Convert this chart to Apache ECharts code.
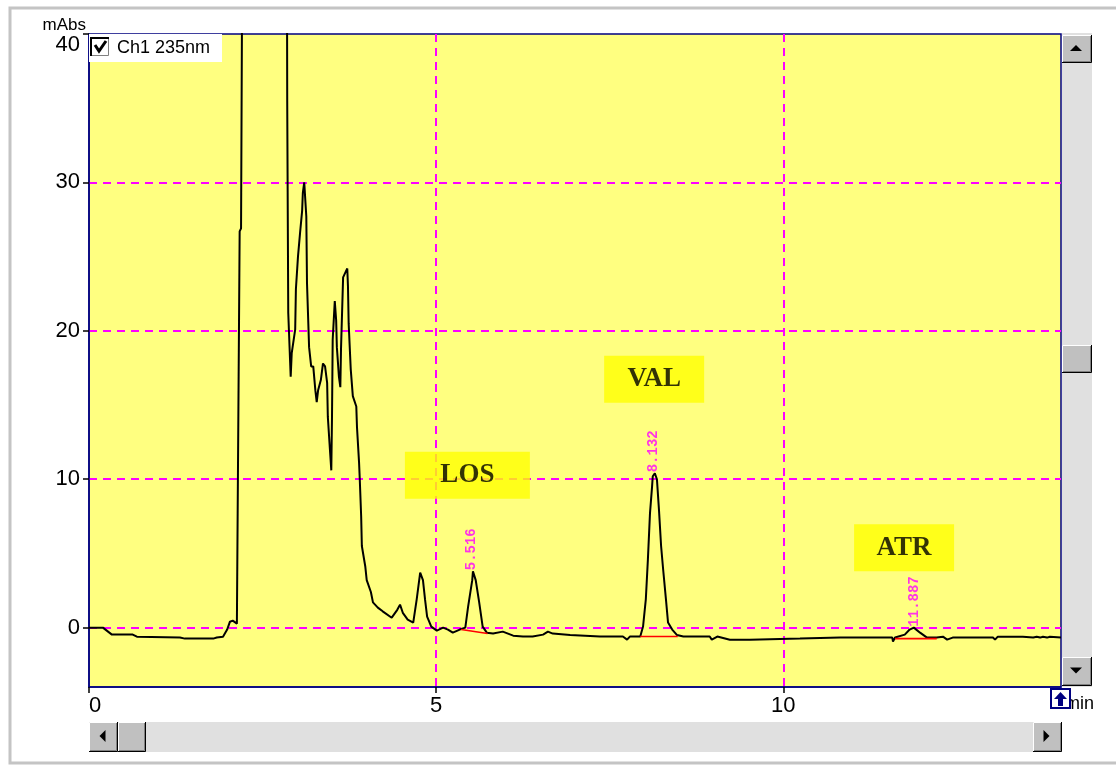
<!DOCTYPE html>
<html><head><meta charset="utf-8">
<script src="https://cdn.jsdelivr.net/npm/echarts@6/dist/echarts.min.js"></script>
<style>html,body{margin:0;padding:0;background:#fff;}#c{width:1116px;height:767px;}</style>
</head><body><div id="c"></div>
<script>
// ---- data ----
const times = [0.00,0.20,0.33,0.63,0.69,1.31,1.38,1.79,1.84,1.93,1.99,2.03,2.07,2.13,2.17,2.19,2.21,2.50,2.85,2.855,2.87,2.905,2.92,2.97,2.98,3.01,3.04,3.07,3.08,3.10,3.13,3.14,3.17,3.20,3.23,3.26,3.28,3.30,3.34,3.37,3.40,3.43,3.44,3.47,3.49,3.50,3.51,3.54,3.56,3.57,3.60,3.62,3.63,3.66,3.69,3.72,3.73,3.74,3.77,3.80,3.85,3.86,3.89,3.90,3.92,3.93,3.98,4.00,4.06,4.09,4.16,4.23,4.36,4.44,4.48,4.52,4.59,4.67,4.72,4.77,4.81,4.84,4.87,4.93,5.01,5.10,5.17,5.24,5.34,5.42,5.46,5.52,5.53,5.57,5.62,5.67,5.73,5.82,5.96,6.11,6.25,6.39,6.54,6.61,6.68,6.93,7.36,7.69,7.75,7.79,7.94,7.98,8.02,8.05,8.08,8.11,8.12,8.15,8.18,8.21,8.24,8.27,8.31,8.34,8.40,8.47,8.56,8.94,8.97,9.05,9.23,9.52,10.24,10.82,11.21,11.22,11.57,11.58,11.61,11.75,11.82,11.88,11.97,12.07,12.21,12.30,12.36,12.44,13.02,13.05,13.09,13.45,13.60,13.65,13.70,13.74,13.80,13.84,14.00];
const absorbance = [0,0,-0.47,-0.47,-0.61,-0.67,-0.74,-0.74,-0.67,-0.61,-0.13,0.40,0.47,0.27,26.7,26.9,48,180,48,35.5,21.2,16.9,18.5,20.1,22.8,25.0,26.6,28.1,29.3,30.0,27.7,23.2,18.9,17.6,17.6,16.0,15.2,16.0,16.7,17.8,17.6,16.5,14.2,12.0,10.6,14.2,19.4,22.0,20.7,18.9,16.9,16.2,18.8,23.6,23.9,24.2,23.0,20.5,17.4,15.6,14.9,13.5,11.1,10.0,7.5,5.5,4.1,3.2,2.4,1.7,1.35,1.1,0.67,1.2,1.55,1.0,0.54,0.34,1.9,3.7,3.2,1.9,0.74,0.07,-0.2,0,-0.13,-0.34,-0.13,0,1.4,3.2,3.8,3.2,1.7,0.07,-0.34,-0.4,-0.27,-0.54,-0.6,-0.6,-0.47,-0.27,-0.4,-0.5,-0.6,-0.6,-0.81,-0.6,-0.6,0.07,1.9,4.6,7.7,9.5,10.2,10.4,10.0,7.9,5.5,3.9,1.9,0.34,-0.13,-0.5,-0.6,-0.6,-0.81,-0.6,-0.81,-0.81,-0.74,-0.67,-0.67,-0.61,-0.67,-0.94,-0.67,-0.47,-0.13,0,-0.34,-0.67,-0.67,-0.61,-0.81,-0.67,-0.67,-0.81,-0.61,-0.61,-0.67,-0.61,-0.67,-0.61,-0.67,-0.61,-0.67];

const peakTimes = [5.516, 8.132, 11.887];
const peakHeights = [3.8, 10.4, 0.0];
const peakLabels = ['5.516', '8.132', '11.887'];

const baseStartT = [5.36, 7.94, 11.61];
const baseStartV = [-0.13, -0.60, -0.74];
const baseEndT = [5.74, 8.48, 12.21];
const baseEndV = [-0.40, -0.60, -0.74];

const compoundNames = ['LOS', 'VAL', 'ATR'];
const compoundT = [5.45, 8.14, 11.74];
const compoundV = [10.27, 16.73, 5.39];

const xTickLabels = ['0', '5', '10'];
const yTickLabels = ['0', '10', '20', '30', '40'];
const channelName = 'Ch1 235nm';
const yUnit = 'mAbs';
const xUnit = 'min';

// ---- styling / layout ----
const boxWidths = [125, 100, 100];
const numFont = "'Liberation Sans Narrow', 'Liberation Sans', Arial, sans-serif";

const chart = echarts.init(document.getElementById('c'), null, {renderer: 'canvas'});

const lineData = times.map((t, i) => [t, absorbance[i]]);
const baseData = [];
for (let i = 0; i < baseStartT.length; i++) {
  baseData.push([baseStartT[i], baseStartV[i]], [baseEndT[i], baseEndV[i]], [null, null]);
}
const peakData = peakTimes.map((t, i) => ({value: [t, peakHeights[i]], name: peakLabels[i]}));
const compData = compoundNames.map((n, i) => ({
  value: [compoundT[i], compoundV[i]], name: n,
  label: {width: boxWidths[i]}
}));

function button(x, y, w, h, dir) {
  const els = [
    {type: 'rect', shape: {x: x, y: y, width: w, height: h}, style: {fill: '#c0c0c0'}},
    {type: 'polyline', shape: {points: [[x + 0.5, y + h - 1], [x + 0.5, y + 0.5], [x + w - 1, y + 0.5]]}, style: {stroke: '#ffffff', lineWidth: 1, fill: null}},
    {type: 'polyline', shape: {points: [[x, y + h - 0.5], [x + w - 0.5, y + h - 0.5], [x + w - 0.5, y]]}, style: {stroke: '#000000', lineWidth: 1, fill: null}},
    {type: 'polyline', shape: {points: [[x + 1, y + h - 1.5], [x + w - 1.5, y + h - 1.5], [x + w - 1.5, y + 1]]}, style: {stroke: '#808080', lineWidth: 1, fill: null}}
  ];
  const cx = x + w / 2 - 1, cy = y + h / 2 - 1;
  let pts = null;
  if (dir === 'up') pts = [[cx - 6, cy + 3], [cx + 6, cy + 3], [cx, cy - 3]];
  if (dir === 'down') pts = [[cx - 6, cy - 3], [cx + 6, cy - 3], [cx, cy + 3]];
  if (dir === 'left') pts = [[cx + 3, cy - 6], [cx + 3, cy + 6], [cx - 3, cy]];
  if (dir === 'right') pts = [[cx - 3, cy - 6], [cx - 3, cy + 6], [cx + 3, cy]];
  if (pts) els.push({type: 'polygon', shape: {points: pts}, style: {fill: '#000'}});
  return els;
}

const graphics = [
  // outer frame
  {type: 'rect', shape: {x: 10, y: 8, width: 1115, height: 755}, style: {fill: null, stroke: '#c4c4c4', lineWidth: 3}, silent: true, z: -10},
  // vertical scrollbar
  {type: 'rect', shape: {x: 1062, y: 33, width: 30, height: 654}, style: {fill: '#e0e0e0'}},
  ...button(1062, 35, 30, 28, 'up'),
  ...button(1062, 345, 30, 28, null),
  ...button(1062, 657, 30, 29, 'down'),
  // horizontal scrollbar
  {type: 'rect', shape: {x: 89, y: 722, width: 973, height: 30}, style: {fill: '#e0e0e0'}},
  ...button(89, 722, 29, 30, 'left'),
  ...button(118, 722, 28, 30, null),
  ...button(1033, 722, 29, 30, 'right'),
  // legend box
  {type: 'rect', shape: {x: 89, y: 34, width: 133, height: 28}, style: {fill: '#ffffff'}, z: 10},
  {type: 'rect', shape: {x: 91.5, y: 38.5, width: 17, height: 17}, style: {fill: '#ffffff', stroke: '#808080', lineWidth: 1}, z: 11},
  {type: 'polyline', shape: {points: [[91, 56], [91, 38], [109, 38]]}, style: {stroke: '#000', lineWidth: 2, fill: null}, z: 12},
  {type: 'polyline', shape: {points: [[95, 45], [99, 51], [106, 41]]}, style: {stroke: '#000', lineWidth: 3, fill: null}, z: 12},
  {type: 'text', x: 117, y: 48, style: {text: channelName, fill: '#000', font: "18px 'Liberation Sans', Arial, sans-serif", textVerticalAlign: 'middle'}, z: 12},
  // y unit
  {type: 'text', x: 86, y: 25, style: {text: yUnit, fill: '#000', font: "17px 'Liberation Sans', Arial, sans-serif", textAlign: 'right', textVerticalAlign: 'middle'}, z: 12},
  // unit icon box near min
  {type: 'rect', shape: {x: 1051, y: 689, width: 19, height: 19}, style: {fill: '#ffffff', stroke: '#000080', lineWidth: 2}, z: 10},
  {type: 'polygon', shape: {points: [[1060.5, 692], [1054, 699], [1067, 699]]}, style: {fill: '#000080'}, z: 11},
  {type: 'rect', shape: {x: 1058, y: 698, width: 5, height: 8}, style: {fill: '#000080'}, z: 11}
];

const option = {
  animation: false,
  backgroundColor: '#ffffff',
  grid: {
    left: 89, right: 55, top: 34, bottom: 80,
    show: true, backgroundColor: '#ffff80', borderColor: '#000080', borderWidth: 1.5
  },
  xAxis: {
    type: 'value', min: 0, max: 14, interval: 5,
    name: xUnit, nameLocation: 'end', nameGap: 4,
    nameTextStyle: {color: '#000', fontSize: 18, fontFamily: "'Liberation Sans', Arial, sans-serif", align: 'left', verticalAlign: 'top', padding: [8, 0, 0, 0]},
    axisLine: {show: true, onZero: false, lineStyle: {color: '#000080', width: 1.5}},
    axisTick: {show: true, length: 6, lineStyle: {color: '#000', width: 1.5}},
    axisLabel: {
      show: true, margin: 8, color: '#000', fontSize: 22, fontFamily: numFont,
      showMaxLabel: false, alignMinLabel: 'left',
      formatter: v => { const i = xTickLabels.indexOf(String(v)); return i >= 0 ? xTickLabels[i] : ''; }
    },
    splitLine: {show: true, showMinLine: false, showMaxLine: false, lineStyle: {color: '#ff00ff', type: [8, 6], width: 2}}
  },
  yAxis: {
    type: 'value', min: -4, max: 40,
    axisLine: {show: true, onZero: false, lineStyle: {color: '#000080', width: 1.5}},
    axisTick: {show: true, length: 6, lineStyle: {color: '#000', width: 1.5}},
    axisLabel: {
      show: true, margin: 9, color: '#000', fontSize: 22, fontFamily: numFont,
      showMinLabel: false, verticalAlignMaxLabel: 'top',
      formatter: v => { const i = yTickLabels.indexOf(String(v)); return i >= 0 ? yTickLabels[i] : ''; }
    },
    splitLine: {show: true, showMinLine: false, showMaxLine: false, lineStyle: {color: '#ff00ff', type: [8, 6], width: 2}}
  },
  graphic: graphics,
  series: [
    {
      type: 'line', data: lineData, showSymbol: false, symbol: 'none', clip: true,
      lineStyle: {color: '#000', width: 2}, z: 3, silent: true
    },
    {
      type: 'line', data: baseData, showSymbol: false, symbol: 'none', connectNulls: false, clip: true,
      lineStyle: {color: '#ff0000', width: 1.6}, z: 4, silent: true
    },
    {
      type: 'scatter', data: peakData, symbolSize: 0, z: 5, silent: true,
      label: {
        show: true, position: 'top', distance: 3, rotate: 90, align: 'left', verticalAlign: 'middle',
        offset: [-2, 0],
        formatter: p => p.name, color: '#ff00ff', fontSize: 14, fontWeight: 'bold',
        fontFamily: "'Liberation Mono', 'DejaVu Sans Mono', monospace"
      }
    },
    {
      type: 'scatter', data: compData, symbolSize: 0, z: 6, silent: true,
      label: {
        show: true, position: 'inside', formatter: p => p.name,
        backgroundColor: '#ffff00', height: 47, lineHeight: 47, align: 'center', verticalAlign: 'middle',
        color: '#000', fontSize: 27, fontWeight: 'bold',
        fontFamily: "'Liberation Serif', 'Times New Roman', serif"
      }
    }
  ]
};
chart.setOption(option);
</script>
</body></html>
